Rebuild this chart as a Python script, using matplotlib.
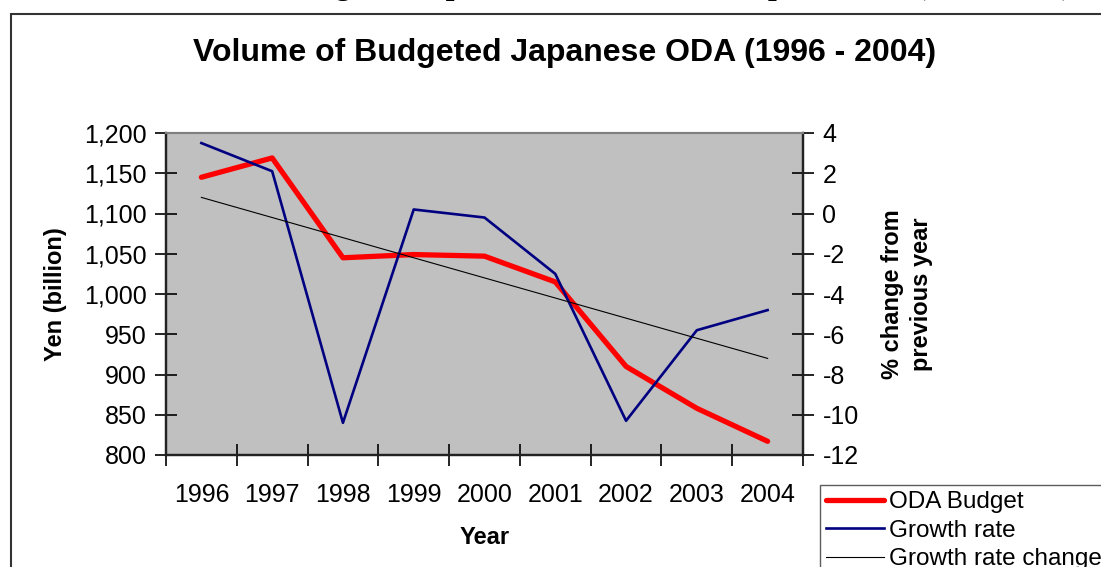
import numpy as np
import matplotlib
matplotlib.use("Agg")
import matplotlib.pyplot as plt
from matplotlib.patches import Rectangle
from matplotlib.ticker import FuncFormatter

plt.rcParams['font.family'] = ['Liberation Sans', 'DejaVu Sans']
plt.rcParams['axes.unicode_minus'] = False

# data
years = ['1996', '1997', '1998', '1999', '2000', '2001', '2002', '2003', '2004']
oda_budget = [1145, 1169, 1045, 1049, 1047, 1015, 910, 858, 817]      # yen billion
growth_rate = [3.5, 2.1, -10.4, 0.2, -0.2, -3.0, -10.3, -5.8, -4.8]   # % change
trend_ends = [0.8, -7.2]                                              # trendline 1996 -> 2004

W, H = 1101, 567
fig = plt.figure(figsize=(W / 100, H / 100), dpi=100)

# outer chart frame (cut off on the right and bottom)
fig.add_artist(Rectangle((11 / W, -0.2), 1.2, 1.2 - 14 / H,
                         transform=fig.transFigure, fill=False,
                         edgecolor='#333333', linewidth=1.5))

# caption of the page above the chart, mostly cropped away
fig.text(280 / W, 1 + 6 / H, 'Budgeted Japanese ODA and Development Aid (1996-2004)',
         family='Liberation Serif', weight='bold', fontsize=22.5,
         ha='left', va='baseline')

ax = fig.add_axes([166 / W, 1 - 455 / H, (803 - 166) / W, (455 - 133) / H])
ax.set_facecolor('#C0C0C0')
x = np.arange(len(years))

ax.plot(x, oda_budget, color='#FF0000', linewidth=3.8, solid_capstyle='round',
        label='ODA Budget', zorder=3)
ax.set_ylim(800, 1200)
ax.set_yticks(np.arange(800, 1201, 50))
ax.yaxis.set_major_formatter(FuncFormatter(lambda v, p: f'{v:,.0f}'))
ax.set_xlim(-0.5, len(years) - 0.5)
ax.set_xticks(np.arange(-0.5, len(years), 1.0))
ax.set_xticklabels([])
ax.set_xticks(x, minor=True)
ax.set_xticklabels(years, minor=True)
ax.tick_params(axis='x', which='minor', length=0, pad=20, labelsize=18)
ax.tick_params(axis='x', which='major', direction='inout', length=16, width=1.2)
ax.tick_params(axis='y', direction='inout', length=16, width=1.2, labelsize=18, pad=6)

ax2 = ax.twinx()
ax2.plot(x, growth_rate, color='#000080', linewidth=1.9, label='Growth rate', zorder=3)
ax2.plot([x[0], x[-1]], trend_ends, color='black', linewidth=0.8,
         label='Growth rate change', zorder=3)
ax2.set_ylim(-12, 4)
ax2.set_yticks(np.arange(-12, 5, 2))
ax2.tick_params(axis='y', direction='inout', length=16, width=1.2, labelsize=18, pad=6)

for a in (ax, ax2):
    a.spines['top'].set_color('#808080')
    a.spines['top'].set_linewidth(1.5)
    for s in ('left', 'right', 'bottom'):
        a.spines[s].set_color('#222222')
        a.spines[s].set_linewidth(1.6)

ax.set_ylabel('Yen (billion)', fontsize=17, weight='bold', labelpad=12)
ax.set_xlabel('Year', fontsize=17, weight='bold', labelpad=14)
ax2.set_ylabel('% change from\nprevious year', fontsize=17, weight='bold',
               labelpad=16, linespacing=1.35)

fig.text(565 / W, 1 - 53 / H, 'Volume of Budgeted Japanese ODA (1996 - 2004)',
         fontsize=23, weight='bold', ha='center', va='center')

handles = ax.get_lines() + ax2.get_lines()
leg = fig.legend(handles, [h.get_label() for h in handles],
                 loc='upper left', bbox_to_anchor=(820 / W, 1 - 485 / H),
                 fontsize=17.5, frameon=True, fancybox=False, borderpad=0.25,
                 handlelength=2.4, handletextpad=0.2, labelspacing=0.27,
                 borderaxespad=0)
leg.get_frame().set_edgecolor('#333333')
leg.get_frame().set_linewidth(1.0)

fig.savefig('out.png', dpi=100)
